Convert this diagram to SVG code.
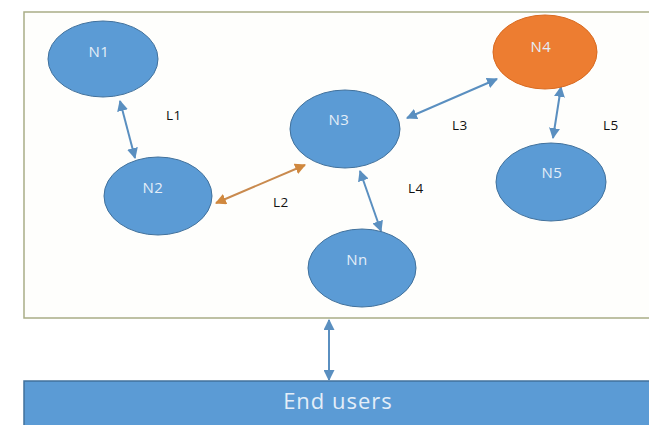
<svg xmlns="http://www.w3.org/2000/svg" width="649" height="425" viewBox="0 0 649 425">
  <style>
    .node { fill: #5b9bd5; stroke: #41719c; stroke-width: 1; }
    .hot { fill: #ed7d31; stroke: #d86a20; stroke-width: 1; }
    .ntext { font-family: "Open Sans", "Liberation Sans", sans-serif; font-size: 15px; fill: #e4eef8; text-anchor: middle; letter-spacing: 0.5px; }
    .ltext { font-family: "Open Sans", "Liberation Sans", sans-serif; font-size: 13.5px; fill: #111; letter-spacing: 0.5px; }
    .link { stroke: #5a8fc0; stroke-width: 2; fill: none; marker-start: url(#headB); marker-end: url(#headB); }
    .link-o { stroke: #c98a4e; stroke-width: 2; fill: none; marker-start: url(#headO); marker-end: url(#headO); }
  </style>
  <defs>
    <marker id="headB" viewBox="0 0 10 10" refX="9" refY="5" markerWidth="5.5" markerHeight="5.5" orient="auto-start-reverse">
      <path d="M0,0 L10,5 L0,10 z" fill="#5a8fc0"/>
    </marker>
    <marker id="headO" viewBox="0 0 10 10" refX="9" refY="5" markerWidth="5.5" markerHeight="5.5" orient="auto-start-reverse">
      <path d="M0,0 L10,5 L0,10 z" fill="#d0883e"/>
    </marker>
  </defs>

  <rect width="649" height="425" fill="#ffffff"/>

  <!-- network boundary -->
  <rect id="network" x="24" y="12" width="630" height="306" fill="#fefefc" stroke="#a9ad86" stroke-width="1.5"/>

  <!-- end users bar -->
  <g id="end-users">
    <rect x="24" y="381" width="630" height="50" fill="#5b9bd5" stroke="#41719c" stroke-width="1.5"/>
    <text x="338" y="409" font-family="'Open Sans', 'Liberation Sans', sans-serif" font-size="22" fill="#e4eef8" text-anchor="middle" letter-spacing="1">End users</text>
  </g>

  <!-- connectors -->
  <g id="connectors">
    <line class="link" x1="120" y1="101" x2="135" y2="158"/>
    <line class="link-o" x1="216" y1="203" x2="305" y2="165"/>
    <line class="link" x1="407" y1="118" x2="497" y2="79"/>
    <line class="link" x1="360" y1="171" x2="381" y2="231"/>
    <line class="link" x1="561" y1="87" x2="553" y2="138"/>
    <line class="link" x1="329" y1="320" x2="329" y2="380"/>
    <text class="ltext" x="166" y="120">L1</text>
    <text class="ltext" x="273" y="207">L2</text>
    <text class="ltext" x="452" y="130">L3</text>
    <text class="ltext" x="408" y="193">L4</text>
    <text class="ltext" x="603" y="130">L5</text>
  </g>

  <g id="N1">
    <ellipse class="node" cx="103" cy="59" rx="55" ry="38"/>
    <text class="ntext" x="99" y="57">N1</text>
  </g>
  <g id="N2">
    <ellipse class="node" cx="158" cy="196" rx="54" ry="39"/>
    <text class="ntext" x="153" y="193">N2</text>
  </g>
  <g id="N3">
    <ellipse class="node" cx="345" cy="129" rx="55" ry="39"/>
    <text class="ntext" x="339" y="125">N3</text>
  </g>
  <g id="N4">
    <ellipse class="hot" cx="545" cy="52" rx="52" ry="37"/>
    <text class="ntext" x="541" y="52">N4</text>
  </g>
  <g id="N5">
    <ellipse class="node" cx="551" cy="182" rx="55" ry="39"/>
    <text class="ntext" x="552" y="178">N5</text>
  </g>
  <g id="Nn">
    <ellipse class="node" cx="362" cy="268" rx="54" ry="39"/>
    <text class="ntext" x="357" y="265">Nn</text>
  </g>
</svg>
